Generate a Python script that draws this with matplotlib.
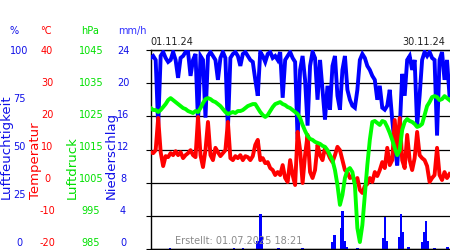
import matplotlib
matplotlib.use("Agg")
import matplotlib.pyplot as plt
import numpy as np

# ---------------- data ----------------
# time axis: days since 01.11.24 00:00, sampled every 6 hours
n_pts = 121
days = np.arange(n_pts) * 0.25

temperature = [
    9.2, 8.9, 9.8, 19.5, 9.2, 5.0, 8.0, 7.7, 8.9, 8.3,
    9.5, 8.3, 9.2, 7.4, 8.3, 8.9, 9.8, 8.3, 7.7, 19.8,
    8.3, 4.7, 9.8, 18.3, 8.3, 6.8, 10.5, 9.2, 8.0, 8.9,
    9.8, 18.3, 7.4, 6.8, 8.0, 7.4, 8.3, 6.8, 8.0, 7.7,
    6.8, 8.0, 11.4, 12.9, 6.8, 7.4, 5.9, 6.2, 4.4, 3.8,
    2.3, 3.2, 2.3, 5.3, 1.4, 0.2, 6.8, 2.3, -0.7, 15.3,
    9.8, -0.1, 8.3, 14.4, 3.2, 1.4, 3.8, 11.4, 8.3, 6.8,
    10.5, 9.2, 7.4, 6.2, 8.3, 10.8, 9.8, 6.8, 3.8, 3.2,
    1.4, 2.0, 0.2, 1.4, -2.2, -3.1, -1.0, -0.4, 1.4, 0.2,
    3.2, 2.0, 3.8, 6.2, 4.4, 10.5, 5.3, 6.8, 18.9, 9.8,
    19.5, 6.8, 4.4, 14.4, 6.8, 3.8, 7.4, 15.3, 8.3, 7.4,
    6.8, 5.0, 0.2, 1.4, 2.3, 10.5, 2.3, 0.8, 3.2, 1.4,
    2.6,
]

pressure = [
    1027.5, 1026.9, 1026.9, 1026.3, 1026.9, 1027.8, 1028.7, 1029.9, 1030.5, 1029.9,
    1029.3, 1028.7, 1028.1, 1027.5, 1027.2, 1026.6, 1026.3, 1026.0, 1026.6, 1026.3,
    1027.5, 1029.0, 1030.2, 1030.5, 1030.2, 1029.6, 1029.3, 1028.7, 1028.1, 1027.2,
    1026.3, 1025.7, 1026.0, 1026.3, 1026.0, 1026.6, 1026.6, 1026.9, 1027.5, 1028.1,
    1028.4, 1028.7, 1028.7, 1027.5, 1026.3, 1025.4, 1024.8, 1025.4, 1026.6, 1027.8,
    1028.7, 1029.0, 1029.3, 1028.7, 1028.4, 1027.8, 1027.5, 1026.9, 1026.3, 1025.7,
    1024.5, 1022.4, 1020.6, 1019.1, 1018.2, 1017.9, 1017.3, 1017.0, 1016.7, 1016.1,
    1015.8, 1014.8, 1013.3, 1011.8, 1008.8, 1004.3, 998.3, 1001.3, 1006.4, 1008.8,
    1009.4, 1008.2, 1004.3, 991.3, 987.1, 992.2, 1001.3, 1010.3, 1017.9, 1023.3,
    1023.6, 1023.0, 1022.4, 1023.6, 1023.3, 1021.8, 1020.0, 1017.9, 1015.5, 1013.3,
    1014.8, 1020.9, 1023.3, 1024.2, 1023.6, 1023.3, 1022.7, 1021.8, 1022.1, 1022.7,
    1025.4, 1028.1, 1029.3, 1030.8, 1031.1, 1030.8, 1029.9, 1030.2, 1031.1, 1030.5,
    1029.9,
]

humidity = [
    96, 97, 95, 62, 97, 99, 96, 94, 95, 99,
    95, 86, 96, 97, 99, 99, 87, 95, 98, 64,
    97, 95, 66, 97, 99, 97, 95, 85, 96, 99,
    96, 60, 96, 98, 99, 97, 92, 98, 99, 97,
    95, 94, 85, 77, 99, 97, 94, 98, 99, 96,
    97, 95, 99, 76, 95, 97, 99, 96, 94, 55,
    90, 97, 85, 62, 92, 99, 96, 75, 95, 80,
    65, 82, 70, 92, 97, 77, 70, 90, 97, 80,
    75, 72, 71, 80, 95, 98, 96, 92, 90, 87,
    85, 75, 82, 71, 70, 72, 80, 65, 52, 42,
    60, 88, 77, 95, 97, 90, 95, 62, 77, 95,
    99, 97, 99, 96, 95, 57, 95, 99, 85, 95,
    77,
]

# precipitation bars (day position, mm/h)
precip_day = [1.93, 8.35, 9.25, 10.75, 11.0, 11.15, 12.85, 15.27, 18.27, 18.47,
              19.09, 19.24, 19.49, 19.67, 20.77, 23.33, 23.53, 23.73, 24.98, 25.13,
              25.28, 25.88, 27.28, 27.48, 27.63, 27.78, 28.49, 29.79]
precip_mm = [0.12, 0.12, 0.12, 1.0, 4.2, 1.5, 0.12, 0.15, 0.8, 1.7,
             2.5, 4.6, 1.0, 0.3, 0.15, 1.3, 3.9, 1.0, 1.5, 4.2,
             2.0, 0.2, 0.9, 2.0, 3.4, 1.0, 0.15, 0.3]

hum_ticks = [0, 25, 50, 75, 100]
temp_ticks = [-20, -10, 0, 10, 20, 30, 40]
pres_ticks = [985, 995, 1005, 1015, 1025, 1035, 1045]
prec_ticks = [0, 4, 8, 12, 16, 20, 24]
start_label = "01.11.24"
end_label = "30.11.24"
created_label = "Erstellt: 01.07.2025 18:21"

# ---------------- figure ----------------
W, H = 450, 250
fig = plt.figure(figsize=(W / 100, H / 100), dpi=100)
fig.patch.set_facecolor("white")

x0, x1, ytop, ybot = 150.7, 449.5, 50, 249
ax = fig.add_axes([x0 / W, 1 - ybot / H, (x1 - x0) / W, (ybot - ytop) / H])
ax.set_xlim(0, 30)
ax.set_ylim(0, 24)
ax.set_yticks(prec_ticks)
ax.yaxis.grid(True, color="black", lw=0.9)
ax.set_axisbelow(True)
ax.tick_params(left=False, bottom=False, labelleft=False, labelbottom=False)
ax.set_xticks([])
for s in ["left", "top", "bottom"]:
    ax.spines[s].set_color("black")
    ax.spines[s].set_linewidth(1.0)
ax.spines["right"].set_visible(False)

ax.bar(precip_day, precip_mm, width=0.26, color="#0000ff", align="center", zorder=2)

def make_twin(lo, hi):
    t = ax.twinx()
    t.set_ylim(lo, hi)
    t.set_xlim(0, 30)
    t.axis("off")
    return t

ax_h = make_twin(0, 100)
ax_t = make_twin(-20, 40)
ax_p = make_twin(985, 1045)

ax_h.plot(days, humidity, color="#0000ff", lw=2.8, solid_joinstyle="miter")
ax_t.plot(days, temperature, color="#ff0000", lw=2.8)
ax_p.plot(days, pressure, color="#00ff00", lw=2.8)

# ---------------- axis labels ----------------
fs = 7
blue = "#1010e8"
red = "#ff0000"
green = "#00e000"

# label rows: top label at y=50.5 px, bottom label at y=243.5 px
lab_top, lab_bot = 50.5, 243.5

def col_labels(ticks, xc, color):
    lo, hi = ticks[0], ticks[-1]
    for v in ticks:
        f = (v - lo) / (hi - lo)
        ypx = lab_bot - f * (lab_bot - lab_top)
        fig.text(xc / W, 1 - ypx / H, f"{v}", ha="center", va="center",
                 fontsize=fs, color=color)

col_labels(hum_ticks, 19, blue)
col_labels(temp_ticks, 47, red)
col_labels(pres_ticks, 91, green)
col_labels(prec_ticks, 123, blue)

hy = 1 - 31 / H
fig.text(14 / W, hy, "%", ha="center", va="center", fontsize=fs, color=blue)
fig.text(46 / W, hy, "°C", ha="center", va="center", fontsize=fs, color=red)
fig.text(90 / W, hy, "hPa", ha="center", va="center", fontsize=fs, color=green)
fig.text(132 / W, hy, "mm/h", ha="center", va="center", fontsize=fs, color="#3030ff")

vy = 1 - 199 / H
vfs = 9.5
fig.text(6.5 / W, vy, "Luftfeuchtigkeit", rotation=90, ha="center", va="bottom", fontsize=vfs, color=blue)
fig.text(35 / W, vy, "Temperatur", rotation=90, ha="center", va="bottom", fontsize=vfs, color=red)
fig.text(72 / W, vy, "Luftdruck", rotation=90, ha="center", va="bottom", fontsize=vfs, color=green)
fig.text(111 / W, vy, "Niederschlag", rotation=90, ha="center", va="bottom", fontsize=vfs, color=blue)

fig.text(150 / W, 1 - 42 / H, start_label, ha="left", va="center", fontsize=fs, color="#222222")
fig.text(445 / W, 1 - 42 / H, end_label, ha="right", va="center", fontsize=fs, color="#222222")
fig.text(175 / W, 1 - 241.5 / H, created_label, ha="left", va="center", fontsize=fs, color="#8a8a8a")

fig.savefig("out.png", dpi=100)
